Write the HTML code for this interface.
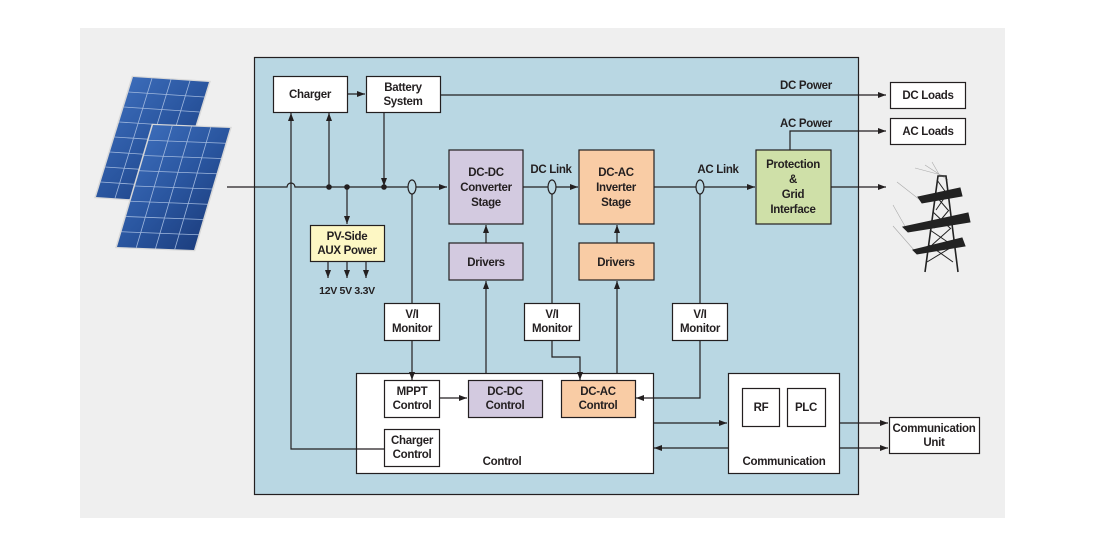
<!DOCTYPE html>
<html><head><meta charset="utf-8"><style>
html,body{margin:0;padding:0;background:#fff;}
svg{display:block;}
text{font-family:"Liberation Sans",sans-serif;font-weight:bold;font-size:11.5px;fill:#231f20;text-anchor:middle;letter-spacing:-0.3px;}
</style></head><body>
<svg width="1094" height="541" viewBox="0 0 1094 541" xmlns="http://www.w3.org/2000/svg">
<defs>
<marker id="a" markerWidth="8" markerHeight="6" refX="8" refY="3" orient="auto" markerUnits="userSpaceOnUse"><path d="M0,0 L8,3 L0,6 z" fill="#231f20"/></marker>
<linearGradient id="pg" x1="0" y1="0" x2="1" y2="1"><stop offset="0" stop-color="#3b6bb8"/><stop offset="0.5" stop-color="#2a56a0"/><stop offset="1" stop-color="#1d3f80"/></linearGradient>
</defs>
<rect x="80" y="28" width="925" height="490" fill="#efefef"/>
<rect x="254.5" y="57.5" width="604" height="437" fill="#b9d7e3" stroke="#231f20" stroke-width="1.2"/>

<!-- solar panels -->
<g transform="matrix(76,5,-37,120,133,77)">
<rect x="-0.02" y="-0.01" width="1.04" height="1.02" fill="#d8d8d8"/>
<rect x="0" y="0" width="1" height="1" fill="url(#pg)"/>
<path d="M0.25,0V1M0.5,0V1M0.75,0V1M0,0.125H1M0,0.25H1M0,0.375H1M0,0.5H1M0,0.625H1M0,0.75H1M0,0.875H1" stroke="#9fb7dd" stroke-width="0.8" fill="none" vector-effect="non-scaling-stroke"/>
</g>
<g transform="matrix(77,3,-36,122,153,125)">
<rect x="-0.02" y="-0.01" width="1.04" height="1.02" fill="#d8d8d8"/>
<rect x="0" y="0" width="1" height="1" fill="url(#pg)"/>
<path d="M0.25,0V1M0.5,0V1M0.75,0V1M0,0.125H1M0,0.25H1M0,0.375H1M0,0.5H1M0,0.625H1M0,0.75H1M0,0.875H1" stroke="#9fb7dd" stroke-width="0.8" fill="none" vector-effect="non-scaling-stroke"/>
</g>

<!-- tower -->
<g stroke="#aaa" stroke-width="0.6" fill="none">
<path d="M915,168 L945,176 M925,165 L948,180 M897,182 L920,200 M893,205 L906,228 M893,226 L914,250 M932,162 L940,176"/>
</g>
<g stroke="#222" fill="none" stroke-width="1">
<path d="M925,272 L938,176 L946,176 L958,272" stroke-width="1.6"/>
<path d="M927,262 L955,245 M929,245 L953,262 M930,230 L952,245 M932,245 L951,228 M933,212 L950,228 M934,228 L949,210 M935,195 L948,210 M936,210 L947,194 M937,180 L947,194"/>
<path d="M918,197 L960,188 L962,196 L922,203 z" fill="#222"/>
<path d="M903,227 L968,213 L970,222 L908,232 z" fill="#222"/>
<path d="M913,250 L962,238 L965,246 L917,254 z" fill="#222"/>
</g>

<!-- boxes -->
<g stroke="#231f20" stroke-width="1.2">
<rect x="273.5" y="76.5" width="74" height="36" fill="#fff"/>
<rect x="366.5" y="76.5" width="74" height="36" fill="#fff"/>
<rect x="449" y="150" width="74" height="74" fill="#d3cae0"/>
<rect x="449" y="243" width="74" height="37" fill="#d3cae0"/>
<rect x="579" y="150" width="75" height="74" fill="#f9cca5"/>
<rect x="579" y="243" width="75" height="37" fill="#f9cca5"/>
<rect x="756" y="150" width="75" height="74" fill="#cfe0a8"/>
<rect x="310.5" y="225.5" width="74" height="36" fill="#fdf7c4"/>
<rect x="384.5" y="303.5" width="55" height="37" fill="#fff"/>
<rect x="524.5" y="303.5" width="55" height="37" fill="#fff"/>
<rect x="672.5" y="303.5" width="55" height="37" fill="#fff"/>
<rect x="356.5" y="373.5" width="297" height="100" fill="#fff"/>
<rect x="384.5" y="380.5" width="55" height="37" fill="#fff"/>
<rect x="468.5" y="380.5" width="74" height="37" fill="#d3cae0"/>
<rect x="561.5" y="380.5" width="74" height="37" fill="#f9cca5"/>
<rect x="384.5" y="429.5" width="55" height="37" fill="#fff"/>
<rect x="728.5" y="373.5" width="111" height="100" fill="#fff"/>
<rect x="742.5" y="388.5" width="37" height="38" fill="#fff"/>
<rect x="787.5" y="388.5" width="38" height="38" fill="#fff"/>
<rect x="889.5" y="417.5" width="90" height="36" fill="#fff"/>
<rect x="890.5" y="82.5" width="75" height="26" fill="#fff"/>
<rect x="890.5" y="118.5" width="75" height="26" fill="#fff"/>
</g>

<g stroke="#231f20" stroke-width="1.2" fill="none">
<path d="M227,187 H287 A4,4 0 0 1 295,187 H447" marker-end="url(#a)"/>
<path d="M523,187 H578" marker-end="url(#a)"/>
<path d="M654,187 H755" marker-end="url(#a)"/>
<path d="M831,187 H886" marker-end="url(#a)"/>
<path d="M347,94 H365" marker-end="url(#a)"/>
<path d="M440,95 H886" marker-end="url(#a)"/>
<path d="M790,150 V131 H886" marker-end="url(#a)"/>
<path d="M329,187 V113" marker-end="url(#a)"/>
<path d="M384,112 V186" marker-end="url(#a)"/>
<path d="M347,187 V224" marker-end="url(#a)"/>
<path d="M328,261 V278" marker-end="url(#a)"/>
<path d="M347,261 V278" marker-end="url(#a)"/>
<path d="M366,261 V278" marker-end="url(#a)"/>
<path d="M384,449 H291 V113" marker-end="url(#a)"/>
<path d="M412,194 V303"/>
<path d="M412,341 V380" marker-end="url(#a)"/>
<path d="M552,194 V303"/>
<path d="M552,341 V357 H580 V380" marker-end="url(#a)"/>
<path d="M700,194 V303"/>
<path d="M700,341 V398 H636" marker-end="url(#a)"/>
<path d="M486,373 V281" marker-end="url(#a)"/>
<path d="M617,373 V281" marker-end="url(#a)"/>
<path d="M486,243 V225" marker-end="url(#a)"/>
<path d="M617,243 V225" marker-end="url(#a)"/>
<path d="M440,398 H467" marker-end="url(#a)"/>
<path d="M653,423 H727" marker-end="url(#a)"/>
<path d="M728,448 H654" marker-end="url(#a)"/>
<path d="M839,423 H888" marker-end="url(#a)"/>
<path d="M839,448 H888" marker-end="url(#a)"/>
</g>
<g fill="#231f20">
<circle cx="329" cy="187" r="2.8"/><circle cx="347" cy="187" r="2.8"/><circle cx="384" cy="187" r="2.8"/>
</g>
<g stroke="#231f20" stroke-width="1.2" fill="#b9d7e3">
<ellipse cx="412" cy="187" rx="4" ry="7"/>
<ellipse cx="552" cy="187" rx="4" ry="7"/>
<ellipse cx="700" cy="187" rx="4" ry="7"/>
</g>

<text x="310" y="98">Charger</text>
<text x="403" y="91">Battery</text><text x="403" y="105">System</text>
<text x="486" y="176">DC-DC</text><text x="486" y="191">Converter</text><text x="486" y="206">Stage</text>
<text x="486" y="266">Drivers</text>
<text x="616" y="176">DC-AC</text><text x="616" y="191">Inverter</text><text x="616" y="206">Stage</text>
<text x="616" y="266">Drivers</text>
<text x="793" y="168">Protection</text><text x="793" y="183">&amp;</text><text x="793" y="198">Grid</text><text x="793" y="213">Interface</text>
<text x="347" y="240">PV-Side</text><text x="347" y="254">AUX Power</text>
<text x="347" y="294" style="font-size:10.5px">12V  5V  3.3V</text>
<text x="412" y="318">V/I</text><text x="412" y="332">Monitor</text>
<text x="552" y="318">V/I</text><text x="552" y="332">Monitor</text>
<text x="700" y="318">V/I</text><text x="700" y="332">Monitor</text>
<text x="412" y="395">MPPT</text><text x="412" y="409">Control</text>
<text x="505" y="395">DC-DC</text><text x="505" y="409">Control</text>
<text x="598" y="395">DC-AC</text><text x="598" y="409">Control</text>
<text x="412" y="444">Charger</text><text x="412" y="458">Control</text>
<text x="502" y="465">Control</text>
<text x="761" y="411">RF</text><text x="806" y="411">PLC</text>
<text x="784" y="465">Communication</text>
<text x="934" y="432">Communication</text><text x="934" y="446">Unit</text>
<text x="928" y="99">DC Loads</text>
<text x="928" y="135">AC Loads</text>
<text x="551" y="173">DC Link</text>
<text x="718" y="173">AC Link</text>
<text x="806" y="89">DC Power</text>
<text x="806" y="127">AC Power</text>
</svg>
</body></html>
